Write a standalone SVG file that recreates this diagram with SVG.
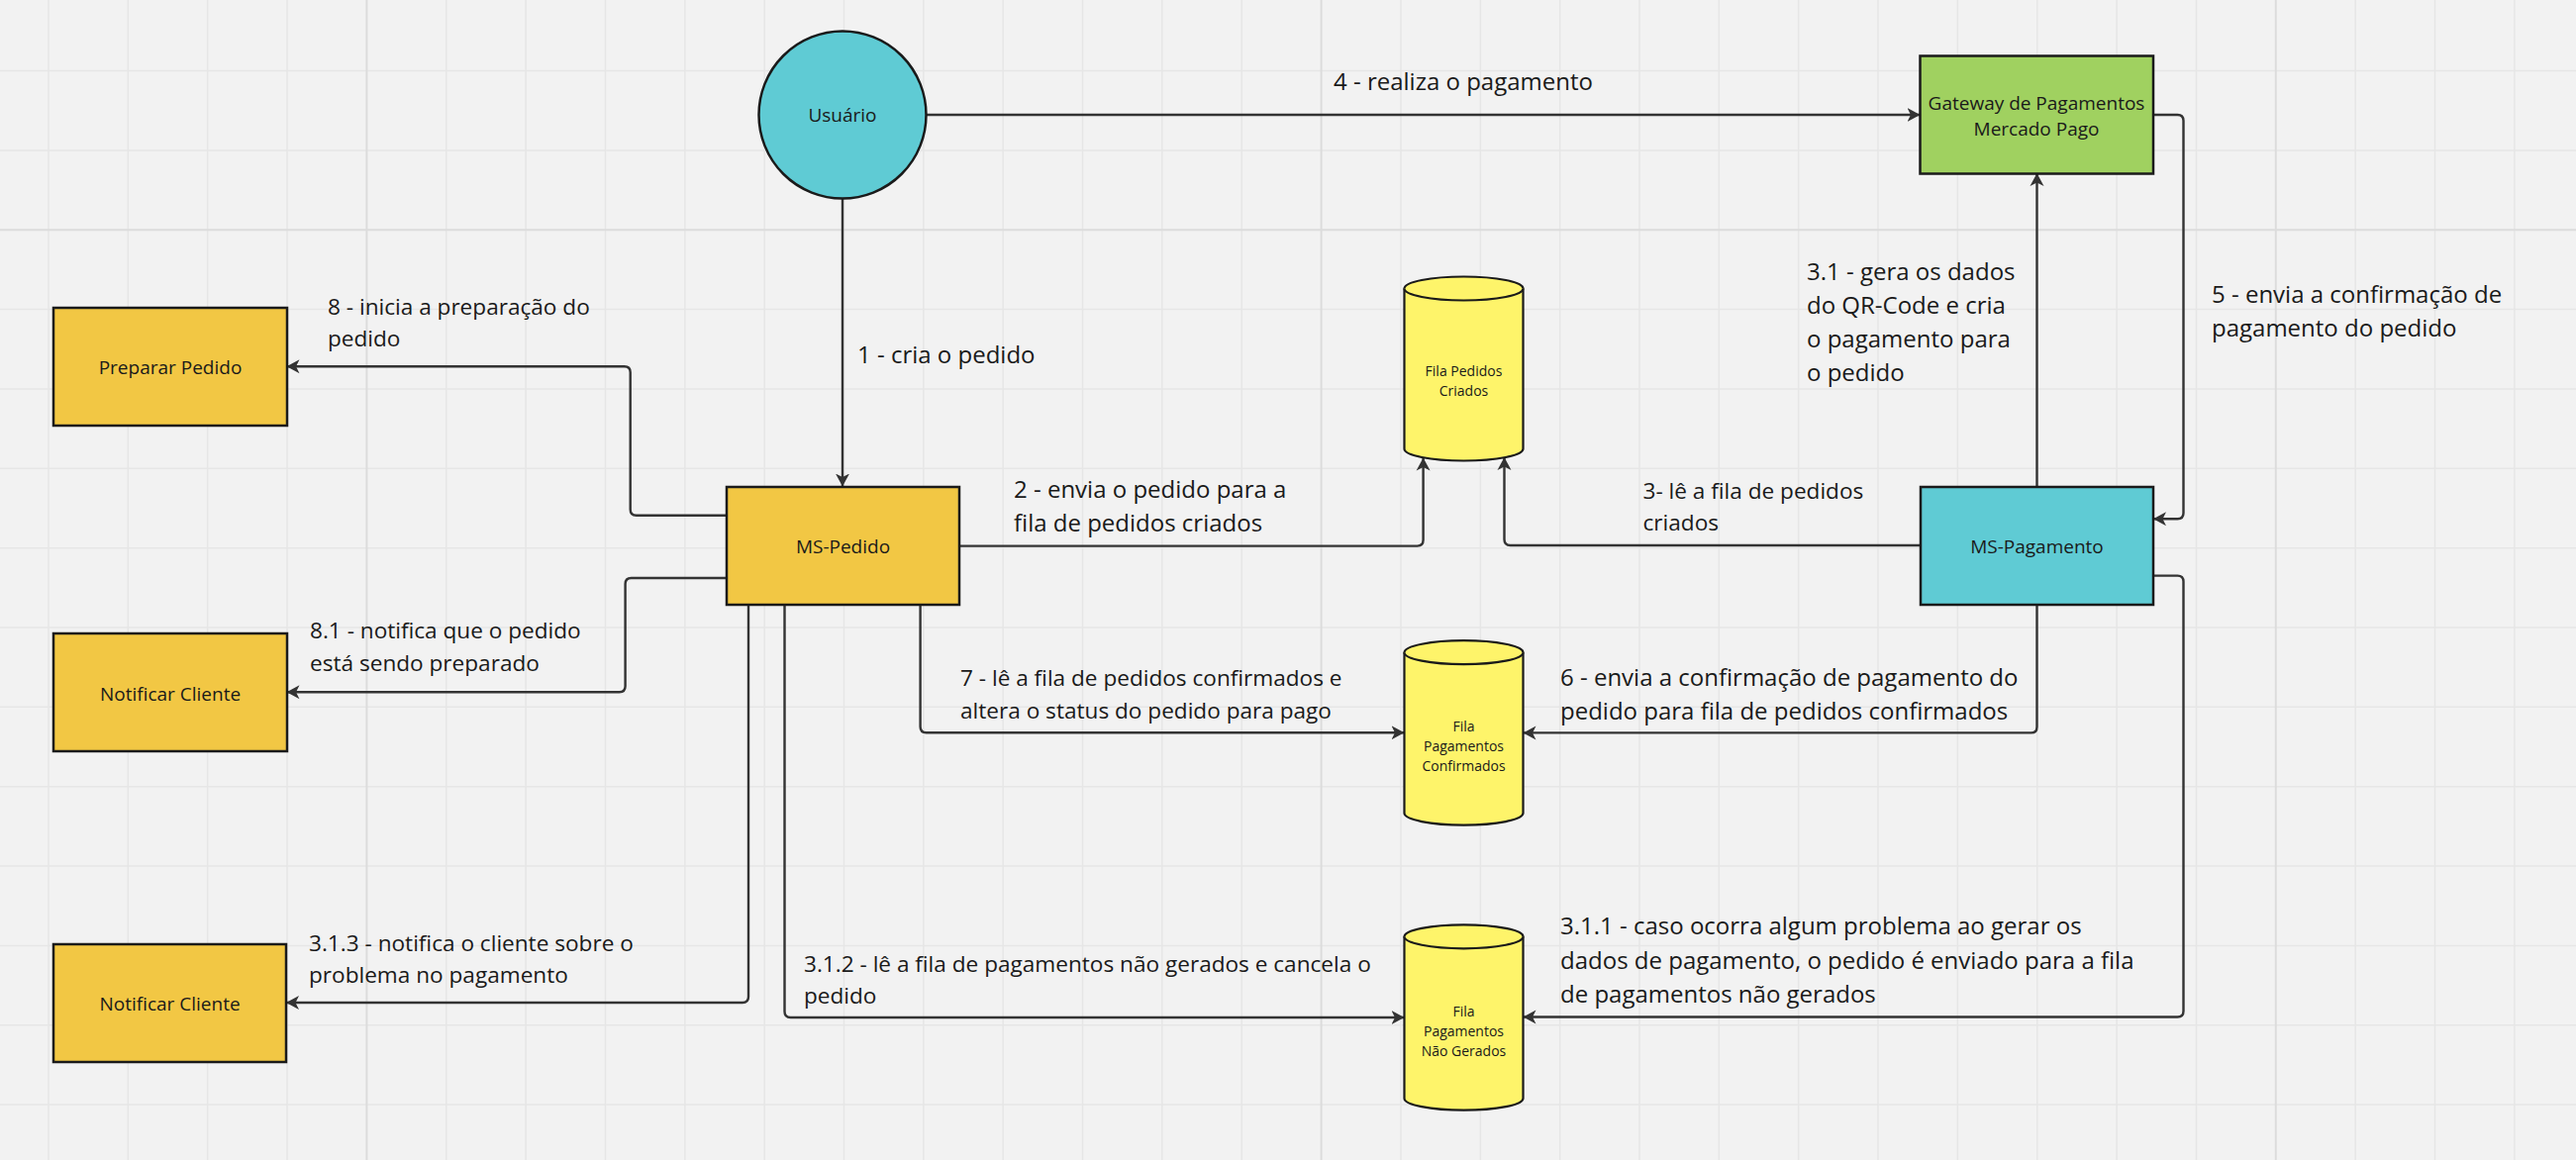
<svg xmlns="http://www.w3.org/2000/svg" width="2602" height="1172" viewBox="0 0 2602 1172">
<defs>
<style>
.bg{fill:#f2f2f2}
.grid{stroke:#e6e6e6;stroke-width:1.5;fill:none}
.gridM{stroke:#dcdcdc;stroke-width:2;fill:none}
.box{stroke:#1a1a1a;stroke-width:2.5}
.yellow{fill:#f2c744}
.teal{fill:#5fcbd4}
.green{fill:#a0d160}
.cyl{fill:#fef46a;stroke:#1a1a1a;stroke-width:2.2}
.conn{fill:none;stroke:#333333;stroke-width:2.4;marker-end:url(#arrow)}
.nt{font-family:"Open Sans","Liberation Sans",sans-serif;font-size:19px;fill:#1a1a1a;text-anchor:middle}
.ct{font-family:"Open Sans","Liberation Sans",sans-serif;font-size:14px;fill:#1a1a1a;text-anchor:middle}
.lb{font-family:"Open Sans","Liberation Sans",sans-serif;font-size:24px;fill:#1a1a1a}
.ls{font-family:"Open Sans","Liberation Sans",sans-serif;font-size:22.6px;fill:#1a1a1a}
</style>
<marker id="arrow" viewBox="0 0 13 15" refX="12.5" refY="7.5" markerWidth="13" markerHeight="15" markerUnits="userSpaceOnUse" orient="auto">
<path d="M0,0.5 L13,7.5 L0,14.5 L3.5,7.5 Z" fill="#333333"/>
</marker>
</defs>
<rect class="bg" x="0" y="0" width="2602" height="1172"/>
<g id="grid">
<path class="grid" d="M49,0V1172 M129.35,0V1172 M209.7,0V1172 M290.05,0V1172 M450.75,0V1172 M531.1,0V1172 M611.45,0V1172 M691.8,0V1172 M772.15,0V1172 M852.5,0V1172 M932.85,0V1172 M1013.2,0V1172 M1093.55,0V1172 M1173.9,0V1172 M1254.25,0V1172 M1414.95,0V1172 M1495.3,0V1172 M1575.65,0V1172 M1656,0V1172 M1736.35,0V1172 M1816.7,0V1172 M1897.05,0V1172 M1977.4,0V1172 M2057.75,0V1172 M2138.1,0V1172 M2218.45,0V1172 M2379.15,0V1172 M2459.5,0V1172 M2539.85,0V1172 M0,71.55H2602 M0,151.9H2602 M0,312.6H2602 M0,392.95H2602 M0,473.3H2602 M0,553.65H2602 M0,634H2602 M0,714.35H2602 M0,794.7H2602 M0,875.05H2602 M0,955.4H2602 M0,1035.75H2602 M0,1116.1H2602"/>
<path class="gridM" d="M370.4,0V1172 M1334.6,0V1172 M2298.8,0V1172 M0,232.25H2602"/>
</g>
<g id="connectors">
<path class="conn" d="M851,201 V491"/>
<path class="conn" d="M936,116 H1939"/>
<path class="conn" d="M969,551.6 H1431.6 Q1437.6,551.6 1437.6,545.6 V463"/>
<path class="conn" d="M1940,551 H1525.5 Q1519.5,551 1519.5,545 V462.5"/>
<path class="conn" d="M2057.5,491.7 V175.5"/>
<path class="conn" d="M2175,116 H2199.5 Q2205.5,116 2205.5,122 V518.2 Q2205.5,524.2 2199.5,524.2 H2175.5"/>
<path class="conn" d="M2057.5,611 V734.4 Q2057.5,740.4 2051.5,740.4 H1539"/>
<path class="conn" d="M929.6,611 V734.2 Q929.6,740.2 935.6,740.2 H1418"/>
<path class="conn" d="M2175,581.6 H2199.5 Q2205.5,581.6 2205.5,587.6 V1021.5 Q2205.5,1027.5 2199.5,1027.5 H1539"/>
<path class="conn" d="M792.5,611 V1022 Q792.5,1028 798.5,1028 H1418"/>
<path class="conn" d="M756,611 V1007 Q756,1013 750,1013 H289.5"/>
<path class="conn" d="M734,520.7 H642.7 Q636.7,520.7 636.7,514.7 V376.3 Q636.7,370.3 630.7,370.3 H290"/>
<path class="conn" d="M734,584 H637.6 Q631.6,584 631.6,590 V693.3 Q631.6,699.3 625.6,699.3 H290"/>
</g>
<g id="labels">
<text class="lb" x="1347" y="90.5">4 - realiza o pagamento</text>
<text class="lb" x="866" y="367">1 - cria o pedido</text>
<text class="lb" x="1024" y="503">2 - envia o pedido para a</text>
<text class="lb" x="1024" y="537">fila de pedidos criados</text>
<text class="ls" x="1659.5" y="503.5">3- lê a fila de pedidos</text>
<text class="ls" x="1659.5" y="536">criados</text>
<text class="lb" x="1825" y="283">3.1 - gera os dados</text>
<text class="lb" x="1825" y="317">do QR-Code e cria</text>
<text class="lb" x="1825" y="351">o pagamento para</text>
<text class="lb" x="1825" y="385">o pedido</text>
<text class="lb" x="2234" y="306">5 - envia a confirmação de</text>
<text class="lb" x="2234" y="340">pagamento do pedido</text>
<text class="lb" x="1576" y="693">6 - envia a confirmação de pagamento do</text>
<text class="lb" x="1576" y="727">pedido para fila de pedidos confirmados</text>
<text class="ls" x="970" y="693">7 - lê a fila de pedidos confirmados e</text>
<text class="ls" x="970" y="725.5">altera o status do pedido para pago</text>
<text class="lb" x="1576" y="944">3.1.1 - caso ocorra algum problema ao gerar os</text>
<text class="lb" x="1576" y="978.5">dados de pagamento, o pedido é enviado para a fila</text>
<text class="lb" x="1576" y="1012.5">de pagamentos não gerados</text>
<text class="ls" x="812" y="981.5">3.1.2 - lê a fila de pagamentos não gerados e cancela o</text>
<text class="ls" x="812" y="1013.5">pedido</text>
<text class="ls" x="312" y="961">3.1.3 - notifica o cliente sobre o</text>
<text class="ls" x="312" y="993">problema no pagamento</text>
<text class="ls" x="331" y="318">8 - inicia a preparação do</text>
<text class="ls" x="331" y="350">pedido</text>
<text class="ls" x="313" y="645">8.1 - notifica que o pedido</text>
<text class="ls" x="313" y="677.5">está sendo preparado</text>
</g>
<g id="usuario">
<circle class="box teal" cx="851" cy="116" r="84.5"/>
<text class="nt" x="851" y="123">Usuário</text>
</g>
<g id="gateway">
<rect class="box green" x="1939.5" y="56.5" width="235.5" height="119"/>
<text class="nt" x="2057" y="110.5">Gateway de Pagamentos</text>
<text class="nt" x="2057" y="136.5">Mercado Pago</text>
</g>
<g id="preparar-pedido">
<rect class="box yellow" x="54" y="311" width="236" height="119"/>
<text class="nt" x="172" y="378">Preparar Pedido</text>
</g>
<g id="ms-pedido">
<rect class="box yellow" x="734" y="492" width="235" height="119"/>
<text class="nt" x="851.5" y="558.5">MS-Pedido</text>
</g>
<g id="notificar-cliente-1">
<rect class="box yellow" x="54" y="640" width="236" height="119"/>
<text class="nt" x="172" y="707.5">Notificar Cliente</text>
</g>
<g id="notificar-cliente-2">
<rect class="box yellow" x="54" y="954" width="235" height="119"/>
<text class="nt" x="171.5" y="1020.5">Notificar Cliente</text>
</g>
<g id="ms-pagamento">
<rect class="box teal" x="1940" y="492" width="235" height="119"/>
<text class="nt" x="2057.5" y="558.5">MS-Pagamento</text>
</g>
<g id="fila-pedidos-criados">
<path class="cyl" d="M1418.5,291.5 A60,12 0 0 1 1538.5,291.5 V453.5 A60,12 0 0 1 1418.5,453.5 Z"/>
<path class="cyl" d="M1418.5,291.5 A60,12 0 0 0 1538.5,291.5" fill="none"/>
<text class="ct" x="1478.5" y="380">Fila Pedidos</text>
<text class="ct" x="1478.5" y="400">Criados</text>
</g>
<g id="fila-pagamentos-confirmados">
<path class="cyl" d="M1418.5,659.2 A60,12 0 0 1 1538.5,659.2 V821.6 A60,12 0 0 1 1418.5,821.6 Z"/>
<path class="cyl" d="M1418.5,659.2 A60,12 0 0 0 1538.5,659.2" fill="none"/>
<text class="ct" x="1478.5" y="738.5">Fila</text>
<text class="ct" x="1478.5" y="758.5">Pagamentos</text>
<text class="ct" x="1478.5" y="778.5">Confirmados</text>
</g>
<g id="fila-pagamentos-nao-gerados">
<path class="cyl" d="M1418.5,946.3 A60,12 0 0 1 1538.5,946.3 V1109.7 A60,12 0 0 1 1418.5,1109.7 Z"/>
<path class="cyl" d="M1418.5,946.3 A60,12 0 0 0 1538.5,946.3" fill="none"/>
<text class="ct" x="1478.5" y="1026.5">Fila</text>
<text class="ct" x="1478.5" y="1046.5">Pagamentos</text>
<text class="ct" x="1478.5" y="1066.5">Não Gerados</text>
</g>
</svg>
